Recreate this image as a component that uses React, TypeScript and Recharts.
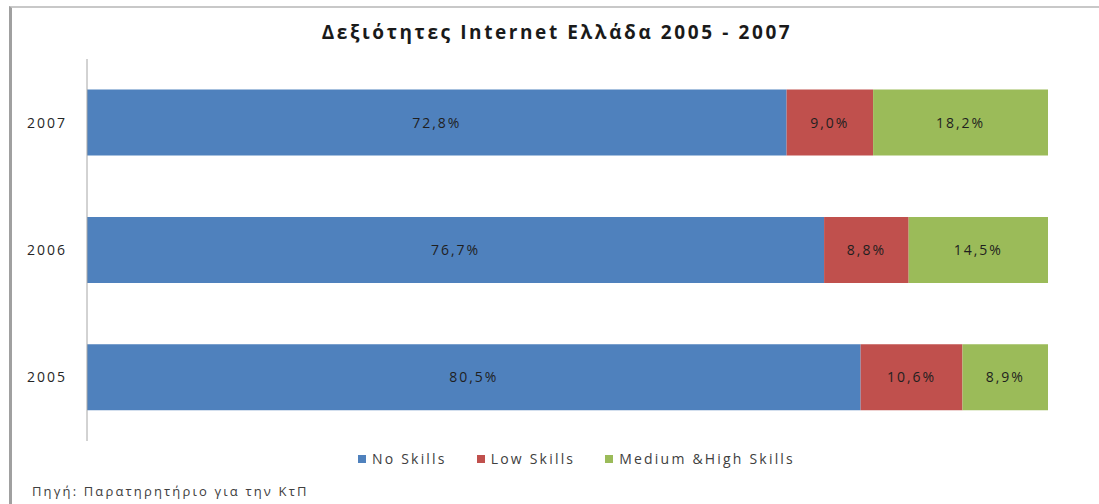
import React from 'react';
import { BarChart, Bar, XAxis, YAxis, Legend, LabelList } from 'recharts';

const years = ['2007', '2006', '2005'];
const noSkills = [72.8, 76.7, 80.5];
const lowSkills = [9.0, 8.8, 10.6];
const mediumHighSkills = [18.2, 14.5, 8.9];

const seriesNames = ['No Skills', 'Low Skills', 'Medium &High Skills'];
const colors = ['#4f81bd', '#c0504d', '#9bbb59'];

const data = years.map((year, i) => ({
  year,
  none: noSkills[i],
  low: lowSkills[i],
  medium: mediumHighSkills[i],
}));

const font = '"Open Sans", sans-serif';
const fmt = (v: any) => Number(v).toFixed(1).replace('.', ',') + '%';

const LegendContent = () => (
  <div style={{ display: 'flex', justifyContent: 'center', fontFamily: font, fontSize: 14, color: '#404040', letterSpacing: 2.2, paddingLeft: 54 }}>
    {seriesNames.map((name, i) => (
      <div key={name} style={{ display: 'flex', alignItems: 'center', marginRight: i < 2 ? 30 : 0 }}>
        <span style={{ width: 8, height: 8, background: colors[i], display: 'inline-block', marginRight: 6 }} />
        <span>{name}</span>
      </div>
    ))}
  </div>
);

export default function App() {
  return (
    <div style={{ position: 'absolute', left: 0, top: 0, width: 1099, height: 504, background: '#fff', overflow: 'hidden' }}>
      <div style={{ position: 'absolute', left: 9, top: 6, width: 1200, height: 600, borderTop: '2px solid #c8c8c8', borderLeft: '3px solid #a0a0a0' }} />
      <div style={{ position: 'absolute', top: 19, left: 0, width: 1114, textAlign: 'center', fontFamily: font, fontWeight: 700, fontSize: 19, letterSpacing: 2.6, color: '#1a1a1a' }}>
        Δεξιότητες Internet Ελλάδα 2005 - 2007
      </div>
      <BarChart
        width={1099}
        height={504}
        data={data}
        layout="vertical"
        barCategoryGap="24%"
        margin={{ top: 59, right: 51, bottom: 43, left: 0 }}
        style={{ position: 'absolute', left: 0, top: 0 }}
      >
        <XAxis type="number" domain={[0, 100]} hide />
        <YAxis
          type="category"
          dataKey="year"
          width={87}
          tickLine={false}
          tickSize={0}
          tickMargin={20}
          axisLine={{ stroke: '#a6a6a6' }}
          tick={{ fontFamily: font, fontSize: 14, fill: '#262626', letterSpacing: 2 }}
        />
        <Legend
          layout="vertical"
          align="center"
          verticalAlign="bottom"
          content={<LegendContent />}
          wrapperStyle={{ top: 449, left: 0, width: 1099, height: 20 }}
        />
        {(['none', 'low', 'medium'] as const).map((key, i) => (
          <Bar key={key} dataKey={key} name={seriesNames[i]} stackId="a" fill={colors[i]} isAnimationActive={false}>
            <LabelList
              dataKey={key}
              position="center"
              formatter={fmt}
              style={{ fontFamily: font, fontSize: 14, fill: '#1f1f1f', letterSpacing: 2 }}
            />
          </Bar>
        ))}
      </BarChart>
      <div style={{ position: 'absolute', left: 32, top: 482, fontFamily: font, fontSize: 13, letterSpacing: 2.15, color: '#404040' }}>
        Πηγή: Παρατηρητήριο για την ΚτΠ
      </div>
    </div>
  );
}
